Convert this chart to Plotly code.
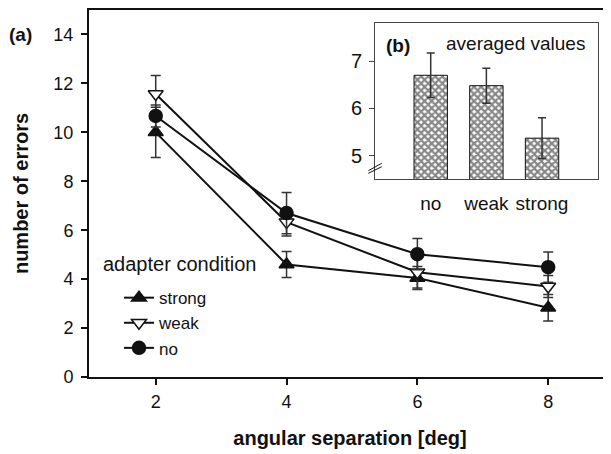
import plotly.graph_objects as go

# ---- data ----
separation = [2, 4, 6, 8]
strong = [10.0, 4.6, 4.05, 2.83]
strong_err = [1.03, 0.53, 0.47, 0.54]
weak = [11.57, 6.33, 4.28, 3.7]
weak_err = [0.75, 0.57, 0.64, 0.45]
no = [10.67, 6.7, 5.02, 4.49]
no_err = [0.45, 0.84, 0.64, 0.62]

avg_labels = ["no", "weak", "strong"]
avg_pos = [0, 1, 2]
avg_values = [6.7, 6.48, 5.37]
avg_err = [0.47, 0.37, 0.43]

FONT = "Arial, 'Liberation Sans', sans-serif"
INK = "#111111"

fig = go.Figure()

series = [
    ("strong", strong, strong_err, "triangle-up", INK),
    ("weak", weak, weak_err, "triangle-down", "white"),
    ("no", no, no_err, "circle", INK),
]
for name, vals, errs, sym, fill in series:
    fig.add_trace(go.Scatter(
        x=separation, y=vals, name=name, mode="lines+markers",
        line=dict(color=INK, width=2),
        marker=dict(symbol=sym, size=13, color=fill, line=dict(color=INK, width=1.5)),
        error_y=dict(type="data", array=errs, visible=True, color="#333333",
                     thickness=1.5, width=5),
        xaxis="x", yaxis="y",
    ))

fig.add_trace(go.Bar(
    x=avg_pos, y=avg_values, width=0.6, showlegend=False,
    marker=dict(color="white", line=dict(color=INK, width=1),
                pattern=dict(shape="x", fgcolor=INK, bgcolor="white", size=5, solidity=0.7)),
    error_y=dict(type="data", array=avg_err, visible=True, color="#333333",
                 thickness=1.5, width=4),
    xaxis="x2", yaxis="y2",
))

# page body adds an 8px offset, so the figure is 8px smaller and margins are reduced
fig.update_layout(
    width=603, height=446,
    margin=dict(l=81, r=0, t=2, b=77, autoexpand=False),
    paper_bgcolor="white", plot_bgcolor="white",
    font=dict(family=FONT, size=18, color=INK),
    xaxis=dict(
        domain=[0, 1], range=[0.98, 8.96], tickvals=separation, automargin=False,
        showline=True, linecolor=INK, linewidth=2, mirror=True,
        ticks="outside", ticklen=6, tickwidth=1.5, tickcolor=INK,
        showgrid=False, zeroline=False, ticklabelstandoff=1,
        tickfont=dict(size=18),
        title=dict(text="<b>angular separation [deg]</b>", font=dict(size=20), standoff=20),
    ),
    yaxis=dict(
        domain=[0, 1], range=[0, 15], tickvals=[0, 2, 4, 6, 8, 10, 12, 14], automargin=False,
        showline=True, linecolor=INK, linewidth=2, mirror=False,
        ticks="outside", ticklen=6, tickwidth=1.5, tickcolor=INK,
        showgrid=False, zeroline=False, ticklabelstandoff=4,
        tickfont=dict(size=18),
        title=dict(text="<b>number of errors</b>", font=dict(size=20), standoff=19),
    ),
    xaxis2=dict(
        domain=[0.548, 0.9745], range=[-1, 3], anchor="y2", automargin=False,
        tickvals=avg_pos, ticktext=avg_labels, ticks="",
        showline=True, linecolor="#444444", linewidth=1, mirror=True,
        showgrid=False, zeroline=False, ticklabelstandoff=7,
        tickfont=dict(size=19),
    ),
    yaxis2=dict(
        domain=[0.5387, 0.9638], range=[4.5, 7.8], anchor="x2", automargin=False,
        tickvals=[5, 6, 7], ticks="outside", ticklen=5, tickwidth=1, tickcolor="#444444",
        showline=True, linecolor="#444444", linewidth=1, mirror=True,
        showgrid=False, zeroline=False, ticklabelstandoff=3,
        tickfont=dict(size=20),
    ),
    legend=dict(
        x=0.023, y=0.264, xanchor="left", yanchor="top",
        bgcolor="rgba(0,0,0,0)", borderwidth=0,
        font=dict(size=17), indentation=18,
        tracegroupgap=0,
    ),
    showlegend=True,
    annotations=[
        dict(text="<b>(a)</b>", xref="paper", yref="paper", x=-0.1303, y=0.9319,
             xanchor="center", yanchor="middle", showarrow=False, font=dict(size=19)),
        dict(text="<b>(b)</b>", xref="paper", yref="paper", x=0.5914, y=0.9046,
             xanchor="center", yanchor="middle", showarrow=False, font=dict(size=19)),
        dict(text="averaged values", xref="paper", yref="paper", x=0.6801, y=0.9087,
             xanchor="left", yanchor="middle", showarrow=False, font=dict(size=19)),
        dict(text="adapter condition", xref="paper", yref="paper", x=0.0230, y=0.3079,
             xanchor="left", yanchor="middle", showarrow=False, font=dict(size=20)),
    ],
    shapes=[
        dict(type="line", xref="x2 domain", yref="y2 domain", x0=-0.03, x1=0.03,
             y0=0.0385, y1=0.0808, line=dict(color=INK, width=1)),
        dict(type="line", xref="x2 domain", yref="y2 domain", x0=-0.03, x1=0.03,
             y0=0.0551, y1=0.1026, line=dict(color=INK, width=1)),
    ],
)

fig.write_html("out.html")
